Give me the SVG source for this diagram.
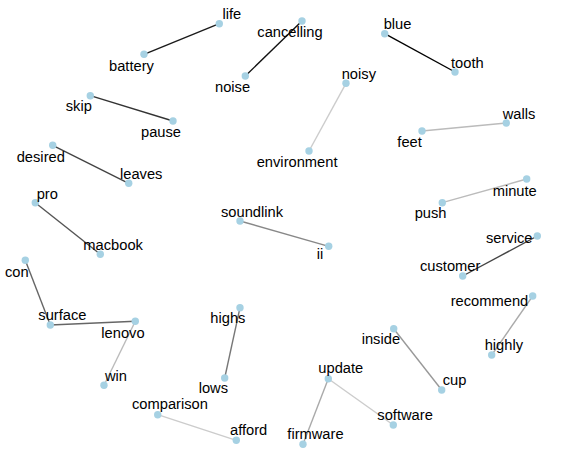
<svg xmlns="http://www.w3.org/2000/svg" width="563" height="466" viewBox="0 0 563 466">
<style>
.e{stroke-width:1.4;fill:none;stroke-linecap:butt}
.n circle{fill:#A6D1E3}
.n text{font-family:"Liberation Sans",Arial,sans-serif;font-size:14.7px;fill:#000}
</style>
<rect width="563" height="466" fill="#fff"/>
<g id="connectors">
<line class="e" x1="144" y1="54.3" x2="219.3" y2="23.7" stroke="#1a1a1a"/>
<line class="e" x1="245.3" y1="76" x2="302" y2="21" stroke="#111"/>
<line class="e" x1="384.7" y1="33.7" x2="455" y2="72" stroke="#000"/>
<line class="e" x1="90.3" y1="95.7" x2="173" y2="121" stroke="#333"/>
<line class="e" x1="52.7" y1="145.3" x2="128.7" y2="183.3" stroke="#444"/>
<line class="e" x1="462.7" y1="276" x2="537.3" y2="236" stroke="#444"/>
<line class="e" x1="35.3" y1="202.7" x2="100.3" y2="254.3" stroke="#555"/>
<line class="e" x1="25.3" y1="260.3" x2="50.3" y2="325" stroke="#666"/>
<line class="e" x1="50.3" y1="325" x2="135.3" y2="321.3" stroke="#666"/>
<line class="e" x1="240" y1="307.7" x2="224.7" y2="378" stroke="#777"/>
<line class="e" x1="240" y1="221" x2="328.7" y2="246.3" stroke="#888"/>
<line class="e" x1="393.7" y1="328.7" x2="441.7" y2="390" stroke="#999"/>
<line class="e" x1="328.3" y1="378.7" x2="303" y2="444.3" stroke="#aaa"/>
<line class="e" x1="532.7" y1="296" x2="491.7" y2="355" stroke="#aaa"/>
<line class="e" x1="135.3" y1="321.3" x2="104" y2="385.3" stroke="#bbb"/>
<line class="e" x1="422" y1="131" x2="506.3" y2="123" stroke="#bbb"/>
<line class="e" x1="442.3" y1="202.7" x2="526.7" y2="179" stroke="#bbb"/>
<line class="e" x1="346" y1="83.3" x2="309" y2="151" stroke="#ccc"/>
<line class="e" x1="157.7" y1="414.7" x2="236.3" y2="440.3" stroke="#ccc"/>
<line class="e" x1="328.3" y1="378.7" x2="393.3" y2="425" stroke="#ccc"/>
</g>
<g id="life" class="n"><circle cx="219.3" cy="23.7" r="3.7"/><text x="222.5" y="19.3">life</text></g>
<g id="battery" class="n"><circle cx="144" cy="54.3" r="3.7"/><text x="109" y="71">battery</text></g>
<g id="cancelling" class="n"><circle cx="302" cy="21" r="3.7"/><text x="257.3" y="37.3">cancelling</text></g>
<g id="noise" class="n"><circle cx="245.3" cy="76" r="3.7"/><text x="215" y="92">noise</text></g>
<g id="blue" class="n"><circle cx="384.7" cy="33.7" r="3.7"/><text x="383.7" y="28.7">blue</text></g>
<g id="tooth" class="n"><circle cx="455" cy="72" r="3.7"/><text x="451" y="67.7">tooth</text></g>
<g id="skip" class="n"><circle cx="90.3" cy="95.7" r="3.7"/><text x="65.7" y="111">skip</text></g>
<g id="pause" class="n"><circle cx="173" cy="121" r="3.7"/><text x="141" y="137">pause</text></g>
<g id="noisy" class="n"><circle cx="346" cy="83.3" r="3.7"/><text x="341.7" y="79">noisy</text></g>
<g id="environment" class="n"><circle cx="309" cy="151" r="3.7"/><text x="256.7" y="166.7">environment</text></g>
<g id="walls" class="n"><circle cx="506.3" cy="123" r="3.7"/><text x="502.7" y="118.7">walls</text></g>
<g id="feet" class="n"><circle cx="422" cy="131" r="3.7"/><text x="397.3" y="146.7">feet</text></g>
<g id="desired" class="n"><circle cx="52.7" cy="145.3" r="3.7"/><text x="16.7" y="161.7">desired</text></g>
<g id="leaves" class="n"><circle cx="128.7" cy="183.3" r="3.7"/><text x="120" y="178.7">leaves</text></g>
<g id="minute" class="n"><circle cx="526.7" cy="179" r="3.7"/><text x="492.7" y="195.7">minute</text></g>
<g id="push" class="n"><circle cx="442.3" cy="202.7" r="3.7"/><text x="414.7" y="218">push</text></g>
<g id="pro" class="n"><circle cx="35.3" cy="202.7" r="3.7"/><text x="36.7" y="198.5">pro</text></g>
<g id="macbook" class="n"><circle cx="100.3" cy="254.3" r="3.7"/><text x="83.3" y="250">macbook</text></g>
<g id="soundlink" class="n"><circle cx="240" cy="221" r="3.7"/><text x="221" y="216.7">soundlink</text></g>
<g id="ii" class="n"><circle cx="328.7" cy="246.3" r="3.7"/><text x="316.7" y="258.7">ii</text></g>
<g id="service" class="n"><circle cx="537.3" cy="236" r="3.7"/><text x="486" y="243.3">service</text></g>
<g id="customer" class="n"><circle cx="462.7" cy="276" r="3.7"/><text x="420" y="271.3">customer</text></g>
<g id="con" class="n"><circle cx="25.3" cy="260.3" r="3.7"/><text x="5" y="276.7">con</text></g>
<g id="surface" class="n"><circle cx="50.3" cy="325" r="3.7"/><text x="38.3" y="320">surface</text></g>
<g id="lenovo" class="n"><circle cx="135.3" cy="321.3" r="3.7"/><text x="101.3" y="337.7">lenovo</text></g>
<g id="win" class="n"><circle cx="104" cy="385.3" r="3.7"/><text x="105" y="380.7">win</text></g>
<g id="highs" class="n"><circle cx="240" cy="307.7" r="3.7"/><text x="210.3" y="323.3">highs</text></g>
<g id="lows" class="n"><circle cx="224.7" cy="378" r="3.7"/><text x="198.7" y="393.3">lows</text></g>
<g id="recommend" class="n"><circle cx="532.7" cy="296" r="3.7"/><text x="450.7" y="305.7">recommend</text></g>
<g id="highly" class="n"><circle cx="491.7" cy="355" r="3.7"/><text x="484.7" y="350">highly</text></g>
<g id="inside" class="n"><circle cx="393.7" cy="328.7" r="3.7"/><text x="361.7" y="344.3">inside</text></g>
<g id="cup" class="n"><circle cx="441.7" cy="390" r="3.7"/><text x="442.7" y="385.3">cup</text></g>
<g id="update" class="n"><circle cx="328.3" cy="378.7" r="3.7"/><text x="318.3" y="372.7">update</text></g>
<g id="software" class="n"><circle cx="393.3" cy="425" r="3.7"/><text x="377.3" y="420">software</text></g>
<g id="firmware" class="n"><circle cx="303" cy="444.3" r="3.7"/><text x="287.3" y="439.3">firmware</text></g>
<g id="comparison" class="n"><circle cx="157.7" cy="414.7" r="3.7"/><text x="132" y="409.3">comparison</text></g>
<g id="afford" class="n"><circle cx="236.3" cy="440.3" r="3.7"/><text x="230" y="435.3">afford</text></g>
</svg>
